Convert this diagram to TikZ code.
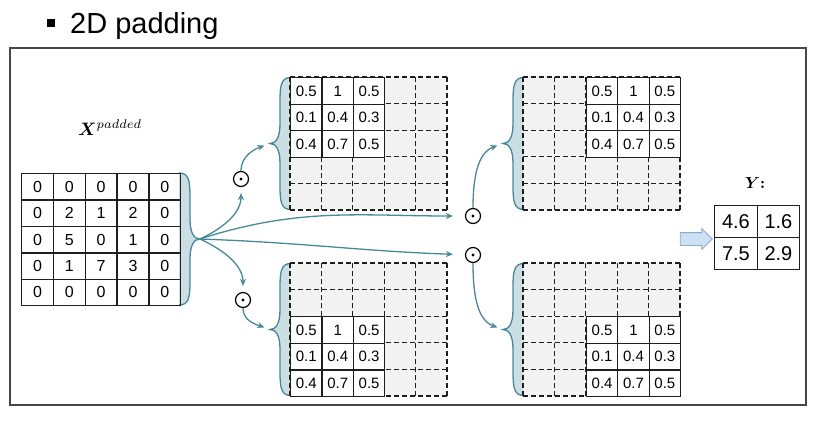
\documentclass[tikz,border=0pt]{standalone}
\usepackage{amsmath}
\usepackage{bm}
\usepackage{fontspec}
\newfontfamily\cellfont{Liberation Sans}
\usetikzlibrary{matrix, arrows.meta, shapes.arrows}

\definecolor{flowc}{RGB}{72,136,152}
\definecolor{bracefill}{RGB}{203,222,228}
\definecolor{padgray}{RGB}{243,243,243}
\definecolor{cellc}{RGB}{30,30,30}
\definecolor{framec}{RGB}{70,70,70}
\definecolor{sumfill}{RGB}{205,224,244}
\definecolor{sumline}{RGB}{140,172,204}

\tikzset{
  flow/.style={flowc, line width=1.3pt, -{Stealth[length=7pt,width=6pt]}, shorten >=6pt},
  braceline/.style={flowc, line width=1.3pt},
  odot/.style={circle, draw, line width=1.2pt, minimum size=15pt, inner sep=0pt,
    path picture={\fill (path picture bounding box.center) circle (1.7pt);}},
  padcells/.style={draw=cellc, line width=1.1pt, dash pattern=on 5pt off 3pt},
  xcell/.style={matrix of nodes, inner sep=0pt, outer sep=0pt, column sep=-1.3pt, row sep=-1.3pt,
    nodes={draw=cellc, line width=1.3pt, minimum width=31.8pt, minimum height=26.4pt, inner sep=0pt,
      anchor=center, font=\cellfont\fontsize{16}{16}\selectfont}},
  kcell/.style={matrix of nodes, ampersand replacement=\&, inner sep=0pt, outer sep=0pt,
    column sep=-1.2pt, row sep=-1.2pt,
    nodes={draw=cellc, line width=1.2pt, fill=white, minimum width=31.4pt, minimum height=26.6pt,
      inner sep=0pt, anchor=center, font=\cellfont\fontsize{15}{15}\selectfont}},
  ycell/.style={matrix of nodes, inner sep=0pt, outer sep=0pt, column sep=-1.3pt, row sep=-1.3pt,
    nodes={draw=cellc, line width=1.3pt, minimum width=42.5pt, minimum height=32pt, inner sep=0pt,
      anchor=center, font=\cellfont\fontsize{20}{20}\selectfont}},
  padbrace/.pic={
    \fill[bracefill] (-21,66) .. controls (-11,66) and (-10,58) .. (-10,42) -- (-10,20)
      .. controls (-10,6) and (-6,0) .. (0,0) .. controls (-6,0) and (-10,-6) .. (-10,-20)
      -- (-10,-42) .. controls (-10,-58) and (-11,-66) .. (-21,-66) -- cycle;
    \draw[braceline] (-21,66) .. controls (-11,66) and (-10,58) .. (-10,42) -- (-10,20)
      .. controls (-10,6) and (-6,0) .. (0,0) .. controls (-6,0) and (-10,-6) .. (-10,-20)
      -- (-10,-42) .. controls (-10,-58) and (-11,-66) .. (-21,-66);
    \coordinate (-tip) at (0,0);
  }
}

\begin{document}
\begin{tikzpicture}[x=1pt, y=1pt]
\useasboundingbox (0,0) rectangle (816,-421);

% heading
\node[fill=black, minimum size=8pt, inner sep=0pt] (bul) at (51,-23) {};
\node[anchor=base west, inner sep=0pt, font=\cellfont\fontsize{29}{29}\selectfont] (ttl) at (70,-33) {2D padding};

\draw[framec, line width=1.4pt] (10,-48) rectangle (806,-405);

% padded input
\node[anchor=base west, inner sep=0pt] (xlbl) at (78,-135) {\scalebox{1.8}{$\bm{X}^{padded}$}};
\pic (xbr) at (200,-239) {padbrace};
\matrix (xpad) [xcell, anchor=north west] at (21,-173) {
  0 & 0 & 0 & 0 & 0 \\
  0 & 2 & 1 & 2 & 0 \\
  0 & 5 & 0 & 1 & 0 \\
  0 & 1 & 7 & 3 & 0 \\
  0 & 0 & 0 & 0 & 0 \\
};

% kernel placed at the four corners
\foreach \kx/\ky/\sc/\sr/\nm in {290/77/0/0/kerA, 523/77/2/0/kerB, 290/263/0/2/kerC, 523/263/2/2/kerD}{
  \pic[xscale=-1] (\nm-br) at ({\kx-20},{-\ky-66.5}) {padbrace};
  \fill[padgray] (\kx,-\ky) rectangle ++(157,-133);
  \draw[padcells, shift={(\kx,-\ky)}] (0,0) grid[xstep=31.4,ystep=26.6] (157.1,-133.1);
  \matrix (\nm) [kcell, anchor=north west] at ({\kx+\sc*31.4},{-\ky-\sr*26.6}) {
    0.5 \& 1 \& 0.5 \\
    0.1 \& 0.4 \& 0.3 \\
    0.4 \& 0.7 \& 0.5 \\
  };
}

% products
\node[odot] (prodA) at (241,-179) {};
\node[odot] (prodC) at (243,-300) {};
\node[odot] (prodB) at (473,-216) {};
\node[odot] (prodD) at (473,-255) {};

\draw[flow] (xbr-tip) to[out=25,in=-90] (prodA);
\draw[flow] (prodA) to[out=90,in=200] (kerA-br-tip);
\draw[flow] (xbr-tip) to[out=-25,in=90] (prodC);
\draw[flow] (prodC) to[out=-90,in=160] (kerC-br-tip);
\draw[flow, shorten >=12pt] (xbr-tip) to[out=18,in=180] (prodB);
\draw[flow, shorten >=12pt] (xbr-tip) to[out=-2,in=178] (prodD);
\draw[flow] (prodB) to[out=90,in=200] (kerB-br-tip);
\draw[flow] (prodD) to[out=-90,in=160] (kerD-br-tip);

% output
\node[anchor=base west, inner sep=0pt] (ylbl) at (745,-188) {\scalebox{1.6}{$\bm{Y}$\textbf{:}}};
\node[single arrow, draw=sumline, fill=sumfill, line width=0.8pt, minimum height=32pt, inner xsep=0pt,
  inner ysep=6pt, single arrow head extend=4pt] (sumarr) at (693,-239) {};
\matrix (ymat) [ycell, anchor=north west] at (714,-205) {
  4.6 & 1.6 \\
  7.5 & 2.9 \\
};
\end{tikzpicture}
\end{document}
